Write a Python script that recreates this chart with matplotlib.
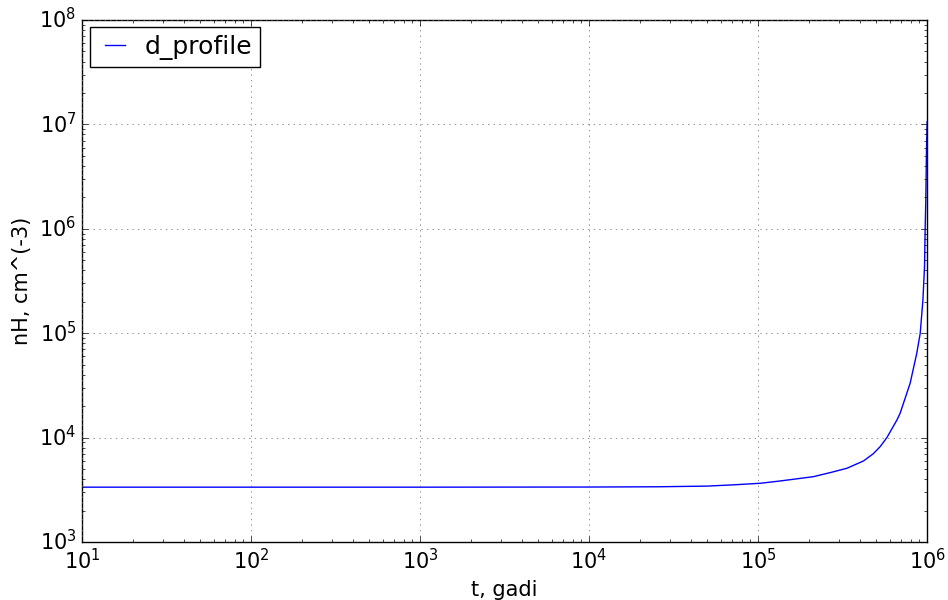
import matplotlib
matplotlib.use("Agg")
import matplotlib.pyplot as plt

# values (log-log)
t_gadi = [10, 1e2, 1e3, 1e4, 2.6e4, 5e4, 7e4, 1.03e5, 1.35e5, 2.12e5,
          2.7e5, 3.35e5, 4.2e5, 4.8e5, 5.27e5, 5.78e5, 6.62e5, 6.92e5, 7.35e5,
          7.93e5, 8.68e5, 9.1e5, 9.44e5, 9.65e5, 9.73e5, 9.82e5, 9.91e5, 1e6]
n_h = [3.35e3, 3.35e3, 3.35e3, 3.36e3, 3.38e3, 3.43e3, 3.52e3, 3.65e3,
       3.84e3, 4.22e3, 4.64e3, 5.08e3, 5.97e3, 7.0e3, 8.18e3, 1.0e4, 1.47e4,
       1.71e4, 2.29e4, 3.31e4, 6.41e4, 9.98e4, 2.08e5, 4.34e5, 9.75e5,
       1.89e6, 5.69e6, 1.06e7]

plt.style.use("classic")
fig = plt.figure(figsize=(9.48, 6), dpi=100, facecolor="white")
ax = fig.add_axes([0.0865, 0.0967, 0.8915, 0.87])

ax.plot(t_gadi, n_h, color="b", label="d_profile")
ax.set_xscale("log")
ax.set_yscale("log")
ax.set_xlim(10, 1e6)
ax.set_ylim(1e3, 1e8)
ax.set_xlabel("t, gadi", fontsize=15)
ax.set_ylabel("nH, cm^(-3)", fontsize=15)
ax.tick_params(labelsize=15)
ax.grid(True, color="0.4")
ax.legend(loc="upper left", fontsize=18, handlelength=1.4,
          handletextpad=0.5, borderaxespad=0.3, borderpad=0.3)

fig.savefig("out.png", dpi=100, facecolor="white")
